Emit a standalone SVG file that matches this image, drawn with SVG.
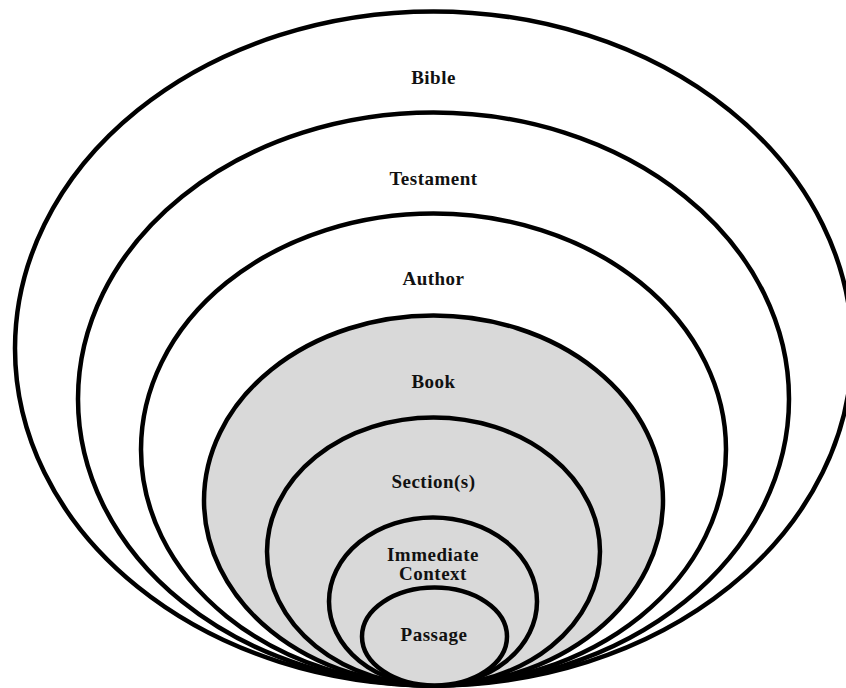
<svg xmlns="http://www.w3.org/2000/svg" width="846" height="688" viewBox="0 0 846 688">
  <style>
    .ring { stroke: #000; stroke-width: 4.5; }
    .outer { fill: #fff; }
    .inner { fill: #d9d9d9; }
    .label { font-family: "Liberation Serif", "Times New Roman", serif; font-weight: bold; font-size: 19px; letter-spacing: 0.5px; fill: #111; text-anchor: middle; }
  </style>
  <rect width="846" height="688" fill="#fff"/>
  <!-- nested levels of context, all touching at the bottom -->
  <g id="bible">
    <ellipse class="ring outer" cx="433.5" cy="348.5" rx="418.5" ry="337"/>
    <text class="label" x="433.5" y="84">Bible</text>
  </g>
  <g id="testament">
    <ellipse class="ring outer" cx="433.5" cy="399" rx="355.5" ry="286.5"/>
    <text class="label" x="433.5" y="185">Testament</text>
  </g>
  <g id="author">
    <ellipse class="ring outer" cx="433.5" cy="449.5" rx="292.5" ry="236"/>
    <text class="label" x="433.5" y="285">Author</text>
  </g>
  <g id="book">
    <ellipse class="ring inner" cx="433.5" cy="500.5" rx="229.5" ry="185"/>
    <text class="label" x="433.5" y="388">Book</text>
  </g>
  <g id="sections">
    <ellipse class="ring inner" cx="433.5" cy="551.5" rx="166.5" ry="134"/>
    <text class="label" x="433.5" y="488">Section(s)</text>
  </g>
  <g id="immediate-context">
    <ellipse class="ring inner" cx="433" cy="601.5" rx="104" ry="84"/>
    <text class="label" x="433" y="561">Immediate</text>
    <text class="label" x="433" y="580">Context</text>
  </g>
  <g id="passage">
    <ellipse class="ring inner" cx="434.5" cy="636.5" rx="72.5" ry="49"/>
    <text class="label" x="434" y="641">Passage</text>
  </g>
  <g id="connectors"/>
</svg>
